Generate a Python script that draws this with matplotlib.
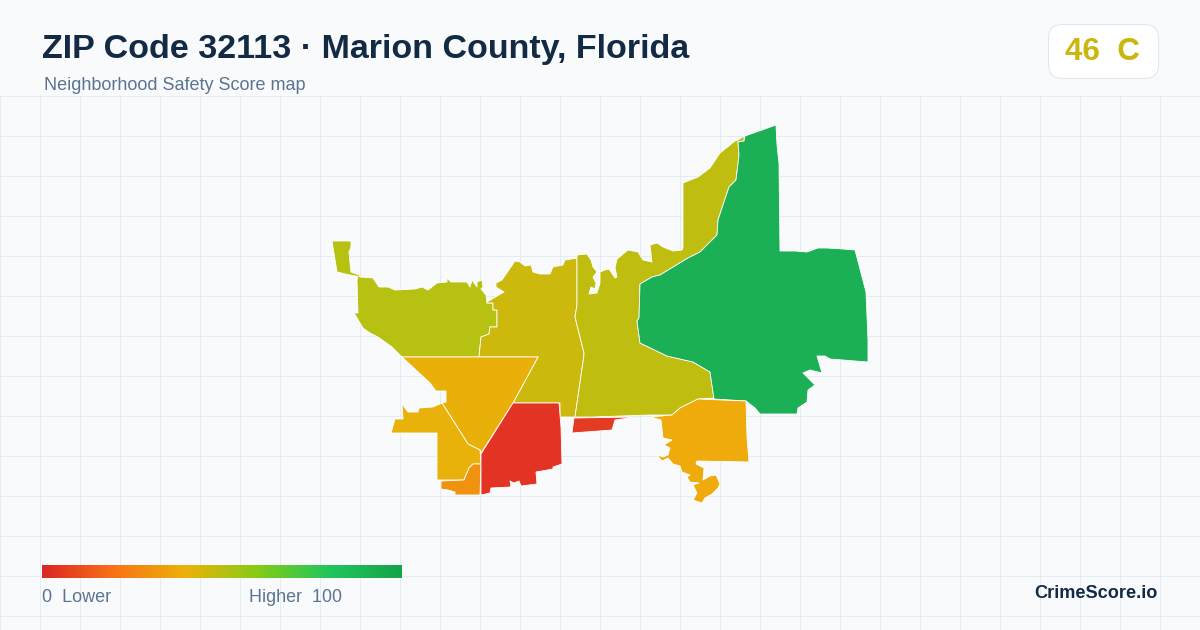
import numpy as np
import matplotlib
matplotlib.use('Agg')
import matplotlib.pyplot as plt
from matplotlib.colors import LinearSegmentedColormap
from matplotlib.patches import FancyBboxPatch, Polygon

plt.rcParams['font.family'] = ['Liberation Sans', 'DejaVu Sans']

title = 'ZIP Code 32113 · Marion County, Florida'
subtitle = 'Neighborhood Safety Score map'
score_text = '46  C'
brand = 'CrimeScore.io'

# outlines, in image pixels
west = [(332, 241), (351, 241), (351, 247), (349, 252), (350, 263), (351, 272), (359, 275), (360, 277), (373, 278),
        (379, 287), (388, 287), (395, 290), (415, 289), (422, 287), (428, 290),
        (437, 283), (447, 282), (447, 278), (451, 282), (467, 282), (470, 287), (472, 280), (477, 287), (477, 282),
        (482, 280), (483, 287), (481, 289), (486, 295), (487, 303), (493, 303), (493, 310), (497, 310), (497, 327),
        (490, 327), (489, 334), (481, 337), (479, 357), (402, 357), (392, 347), (378, 337), (370, 333), (363, 328),
        (354, 313), (358, 313), (357, 280), (358, 276.5), (350, 275), (337, 272)]
central = [(487, 302), (504, 292), (496, 287), (496, 283), (502, 280), (515, 261), (520, 262), (525, 266), (531, 265),
           (533, 272), (540, 274), (550, 274), (553, 267), (563, 265), (565, 260), (577, 258), (577, 305), (575, 317),
           (584, 353), (584, 355), (575, 417), (560, 417), (560, 403), (513, 403), (538, 357), (479, 357), (481, 337),
           (489, 334), (490, 327), (497, 327), (497, 310), (493, 310), (493, 303), (487, 303)]
east_central = [(577, 255), (587, 254), (591, 260), (593, 267), (597, 272), (593, 277), (596, 283), (595, 289),
                (591, 287), (589, 294), (597, 293), (600, 283), (600, 272), (605, 270), (609, 269), (615, 278),
                (617, 277), (615, 268), (617, 259), (628, 250), (638, 252), (643, 260), (652, 262), (650, 245),
                (657, 243), (663, 247), (673, 251), (682, 250), (683, 247), (683, 183), (698, 177), (710, 168),
                (720, 153), (735, 141), (738, 140), (744, 136), (744, 141), (738, 142), (739, 155), (736, 180),
                (729, 187), (718, 220), (717, 235), (700, 252), (688, 258), (660, 275), (652, 277), (640, 284),
                (639, 318), (637, 321), (640, 343), (667, 356), (693, 362), (710, 372), (714, 398), (698, 399),
                (680, 408), (672, 415), (650, 415), (592, 417), (575, 417), (584, 355), (584, 353), (575, 317),
                (577, 305)]
east = [(776, 125), (745, 136), (744, 141), (738, 142), (739, 155), (736, 180), (729, 187), (718, 220), (717, 235),
        (700, 252), (688, 258), (660, 275), (652, 277), (640, 284), (639, 318), (637, 321), (640, 343), (667, 356),
        (693, 362), (710, 372), (714, 399), (730, 400), (746, 401), (755, 408), (760, 414), (797, 414), (798, 408),
        (807, 402), (808, 390), (815, 385), (803, 373), (810, 370), (822, 373), (817, 356), (825, 356), (830, 359),
        (868, 362), (868, 340), (866, 292), (855, 250), (843, 249), (827, 248), (818, 248), (807, 252), (795, 251),
        (780, 251), (779, 163), (777, 145)]
southeast = [(651, 417), (672, 415), (680, 408), (698, 399), (746, 401), (747, 437), (749, 462), (697, 461),
             (696, 464), (704, 468), (703, 480), (710, 476), (716, 475), (720, 484), (718, 488), (712, 494),
             (705, 498), (702, 503), (693, 500), (697, 493), (693, 485), (699, 483), (690, 482), (687, 477),
             (690, 475), (682, 472), (680, 466), (673, 464), (668, 458), (662, 461), (657, 455), (663, 457),
             (668, 455), (670, 448), (664, 445), (672, 440), (663, 438), (661, 420)]
triangle = [(402, 357), (538, 357), (513, 403), (481, 453), (480, 450), (468, 444), (442, 403), (446, 402),
            (446, 391), (436, 391), (430, 383)]
southwest = [(442, 403), (468, 444), (480, 450), (481, 464), (473, 464), (469, 468), (464, 480), (437, 480),
             (437, 433), (391, 433), (395, 419), (403, 419), (402, 404), (408, 412), (418, 412), (419, 408),
             (433, 407)]
south_small = [(481, 464), (473, 464), (469, 468), (464, 480), (441, 481), (441, 489), (448, 490), (455, 492),
               (455, 495), (480, 495)]
red_big = [(513, 403), (559, 403), (561, 427), (562, 464), (553, 467), (553, 469), (536, 472), (537, 484), (521, 486),
           (519, 481), (514, 483), (510, 481), (511, 487), (491, 488), (490, 493), (481, 495), (481, 454)]
red_small = [(574, 418), (635, 417), (615, 420), (612, 430), (572, 433)]

region_shapes = [west, central, east_central, east, southeast, triangle, southwest, south_small, red_big, red_small]
region_colors = ['#b7c112', '#cdb90e', '#bfbe10', '#1bb055', '#eeab0b', '#e9b009', '#e9b20b', '#f0920f', '#e33324',
                 '#e33c22']

legend_stops = ['#dc2626', '#f97316', '#eab308', '#84cc16', '#22c55e', '#16a34a']

fig = plt.figure(figsize=(12, 6.3), dpi=100, facecolor='#f8fafc')
ax = fig.add_axes([0, 0, 1, 1])
ax.set_facecolor('#f8fafc')

# background grid, header has none
for x in range(0, 1201, 40):
    ax.plot([x, x], [96, 630], color='#e3ecf2', lw=0.72, zorder=1)
for y in range(96, 631, 40):
    ax.plot([0, 1200], [y, y], color='#e3ecf2', lw=0.72, zorder=1)

for shape, c in zip(region_shapes, region_colors):
    ax.add_patch(Polygon(shape, closed=True, facecolor=c, edgecolor='white', lw=0.6, joinstyle='round', zorder=2))

cmap = LinearSegmentedColormap.from_list('score', legend_stops)
ax.imshow(np.linspace(0, 1, 360).reshape(1, -1), cmap=cmap, extent=(42, 402, 578, 565), aspect='auto', zorder=3)

ax.text(42, 49.5, title, fontsize=24.5, fontweight='bold', color='#132a45', va='center', ha='left', zorder=4)
ax.text(44, 86, subtitle, fontsize=12.95, color='#5b7491', va='center', ha='left', zorder=4)

ax.add_patch(FancyBboxPatch((1048.5, 24.5), 110, 54, boxstyle='round,pad=0,rounding_size=14', facecolor='white',
                            edgecolor='#dfe6ee', lw=0.72, zorder=3))
ax.text(1065, 52.5, score_text, fontsize=22.6, fontweight='bold', color='#c9b70f', va='center', ha='left', zorder=4)

ax.text(42, 597.5, '0  Lower', fontsize=12.95, color='#5b7491', va='center', ha='left', zorder=4)
ax.text(249, 597.5, 'Higher  100', fontsize=12.85, color='#5b7491', va='center', ha='left', zorder=4)
ax.text(1158, 594, brand, fontsize=13.05, fontweight='bold', color='#132a45', va='center', ha='right', zorder=4)

ax.set_xlim(0, 1200)
ax.set_ylim(630, 0)
ax.axis('off')

fig.savefig('out.png', dpi=100, facecolor=fig.get_facecolor())
